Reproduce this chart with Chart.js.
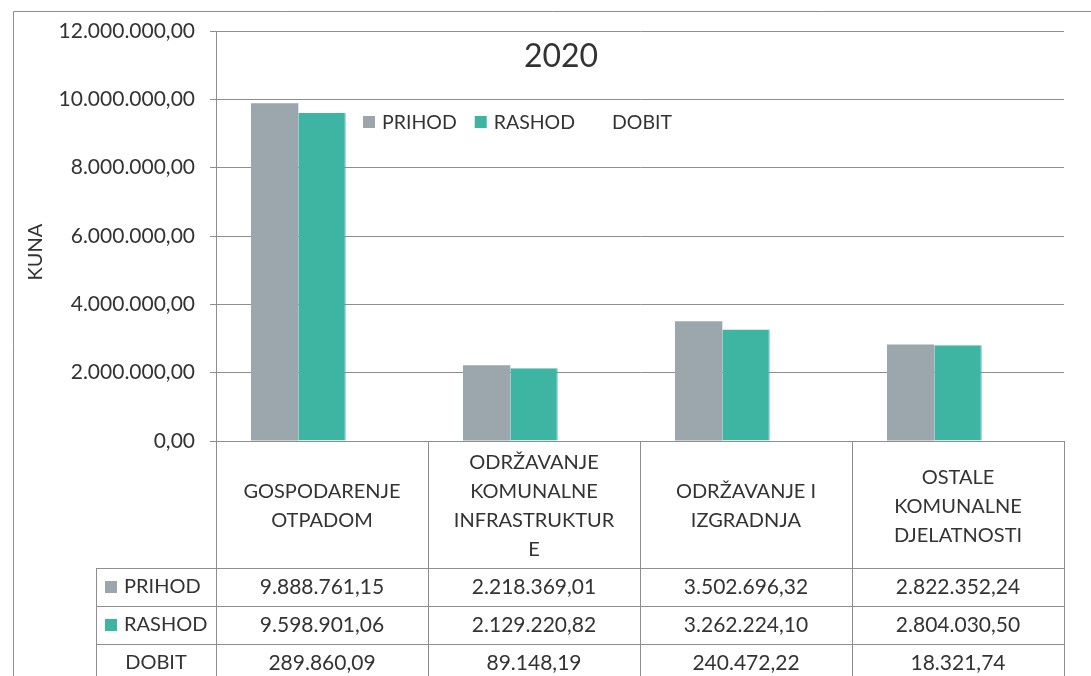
<!DOCTYPE html>
<html>
<head>
<meta charset="utf-8">
<script src="https://cdn.jsdelivr.net/npm/chart.js@4"></script>
<style>
  html, body { margin: 0; padding: 0; background: #fff; }
  #wrap { width: 1091px; height: 676px; position: relative; }
</style>
</head>
<body>
<div id="wrap"><canvas id="chart"></canvas></div>
<script>
// data
const categories = [
  ["GOSPODARENJE", "OTPADOM"],
  ["ODRŽAVANJE", "KOMUNALNE", "INFRASTRUKTUR", "E"],
  ["ODRŽAVANJE I", "IZGRADNJA"],
  ["OSTALE", "KOMUNALNE", "DJELATNOSTI"]
];
const seriesNames = ["PRIHOD", "RASHOD", "DOBIT"];
const prihod = [9888761.15, 2218369.01, 3502696.32, 2822352.24];
const rashod = [9598901.06, 2129220.82, 3262224.10, 2804030.50];
const dobit = [289860.09, 89148.19, 240472.22, 18321.74];
const yMin = 0, yMax = 12000000, yStep = 2000000;
const chartTitle = "2020";
const yTitle = "KUNA";

const FONT = "Lato, 'Open Sans', sans-serif";
const TEXT = "#333333";
const LINE = "#8e8e8e";

// 1.234.567,89
function kn(v) {
  const parts = Math.abs(v).toFixed(2).split(".");
  return parts[0].replace(/\B(?=(\d{3})+(?!\d))/g, ".") + "," + parts[1];
}

// title, legend, axis title and the data table under the plot
const tablePlugin = {
  id: "dataTable",
  afterDraw(chart) {
    const ctx = chart.ctx;
    const a = chart.chartArea;
    const xs = chart.scales.x;
    const n = categories.length;
    const w = (a.right - a.left) / n;
    const edges = categories.map((c, i) => xs.getPixelForValue(i) - w / 2);
    edges.push(a.right);

    const headBottom = a.bottom + 127;
    const rowH = 38;
    const labelLeft = 96;
    const rows = [prihod, rashod, dobit];
    const colors = chart.data.datasets.map(d => d.legendColor);

    ctx.save();
    ctx.strokeStyle = LINE;
    ctx.lineWidth = 1;

    // outer chart border
    ctx.beginPath();
    ctx.moveTo(13.5, 700);
    ctx.lineTo(13.5, 11.5);
    ctx.lineTo(1100, 11.5);
    ctx.stroke();

    // column lines
    ctx.beginPath();
    edges.forEach(e => {
      const xx = Math.round(e) + 0.5;
      ctx.moveTo(xx, a.bottom);
      ctx.lineTo(xx, 700);
    });
    ctx.moveTo(labelLeft + 0.5, headBottom);
    ctx.lineTo(labelLeft + 0.5, 700);
    for (let r = 0; r < 3; r++) {
      const yy = Math.round(headBottom + r * rowH) + 0.5;
      ctx.moveTo(labelLeft, yy);
      ctx.lineTo(a.right, yy);
    }
    ctx.stroke();

    ctx.fillStyle = TEXT;
    ctx.textAlign = "center";
    ctx.textBaseline = "middle";
    ctx.font = "20px " + FONT;

    // category headers, centred in their cells
    categories.forEach((lines, i) => {
      const cx = (edges[i] + edges[i + 1]) / 2;
      const lh = 29;
      const cy = (a.bottom + headBottom) / 2 + 2;
      lines.forEach((t, k) => {
        ctx.fillText(t, cx, cy + (k - (lines.length - 1) / 2) * lh);
      });
    });

    // value rows
    rows.forEach((vals, r) => {
      const cy = headBottom + r * rowH + rowH / 2;
      ctx.font = "21px " + FONT;
      vals.forEach((v, i) => {
        ctx.fillText(kn(v), (edges[i] + edges[i + 1]) / 2, cy);
      });
      ctx.font = "20px " + FONT;
      if (r < 2) {
        ctx.fillStyle = colors[r];
        ctx.fillRect(105, cy - 6, 12, 12);
        ctx.fillStyle = TEXT;
        ctx.textAlign = "left";
        ctx.fillText(seriesNames[r], 124, cy);
        ctx.textAlign = "center";
      } else {
        ctx.fillText(seriesNames[r], (labelLeft + a.left) / 2, cy);
      }
    });

    // title
    ctx.font = "32px " + FONT;
    ctx.fillText(chartTitle, 561, 57);

    // legend inside the plot
    ctx.font = "19.5px " + FONT;
    ctx.textAlign = "left";
    let lx = 363;
    const ly = 122;
    seriesNames.forEach((name, i) => {
      ctx.fillStyle = colors[i];
      ctx.fillRect(lx, ly - 6, 12, 12);
      ctx.fillStyle = TEXT;
      ctx.fillText(name, lx + 19, ly + 1);
      lx += 19 + ctx.measureText(name).width + 18;
    });

    // y axis title
    ctx.save();
    ctx.translate(36, 252);
    ctx.rotate(-Math.PI / 2);
    ctx.textAlign = "center";
    ctx.font = "20px " + FONT;
    ctx.fillText(yTitle, 0, 0);
    ctx.restore();

    ctx.restore();
  }
};

new Chart(document.getElementById("chart"), {
  type: "bar",
  data: {
    labels: categories,
    datasets: [
      {
        label: seriesNames[0],
        data: prihod,
        backgroundColor: "#9ba6ad",
        legendColor: "#9ba6ad"
      },
      {
        label: seriesNames[1],
        data: rashod,
        backgroundColor: "#3db5a2",
        borderColor: "#3aa8cc",
        borderWidth: { right: 1, top: 0, left: 0, bottom: 0 },
        legendColor: "#3db5a2"
      },
      {
        label: seriesNames[2],
        data: dobit,
        backgroundColor: "rgba(255,255,255,0)",
        legendColor: "rgba(255,255,255,0)"
      }
    ]
  },
  options: {
    responsive: true,
    maintainAspectRatio: false,
    animation: false,
    layout: { padding: { left: 0, top: 31, right: 27, bottom: 235 } },
    datasets: {
      bar: { categoryPercentage: 0.67, barPercentage: 1.0 }
    },
    plugins: {
      legend: { display: false },
      title: { display: false },
      tooltip: { enabled: false }
    },
    scales: {
      x: { display: false },
      y: {
        min: yMin,
        max: yMax,
        afterFit(s) { s.width = 216; },
        ticks: {
          stepSize: yStep,
          padding: 15,
          color: TEXT,
          font: { family: FONT, size: 21 },
          callback: v => kn(v)
        },
        grid: { color: LINE, tickLength: 6, lineWidth: 1 },
        border: { color: LINE }
      }
    }
  },
  plugins: [tablePlugin]
});
</script>
</body>
</html>
